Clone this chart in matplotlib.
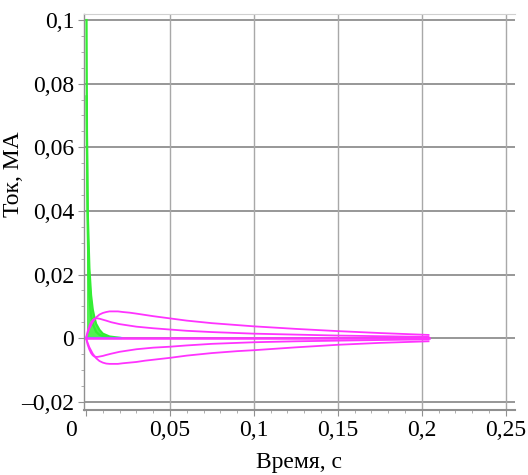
import matplotlib
matplotlib.use("Agg")
import matplotlib.pyplot as plt
import matplotlib.transforms as mtransforms
from matplotlib.ticker import MultipleLocator, FixedLocator

# ---------------- data ----------------
x_ticks = [0, 0.05, 0.1, 0.15, 0.2, 0.25]
x_tick_labels = ["0", "0,05", "0,1", "0,15", "0,2", "0,25"]
y_ticks = [-0.02, 0, 0.02, 0.04, 0.06, 0.08, 0.1]
y_tick_labels = ["\u20130,02", "0", "0,02", "0,04", "0,06", "0,08", "0,1"]

# green fast-decaying curves
g1_t = [0.0003, 0.0006, 0.001, 0.0015, 0.002, 0.003, 0.004, 0.006, 0.008, 0.012]
g1_v = [0.1, 0.06, 0.035, 0.02, 0.013, 0.007, 0.0045, 0.002, 0.001, 0.0003]
g2_t = [0.0003, 0.001, 0.002, 0.003, 0.004, 0.005, 0.006, 0.008, 0.010, 0.014, 0.02]
g2_v = [0.076, 0.04, 0.022, 0.0135, 0.009, 0.0065, 0.0045, 0.0026, 0.0014, 0.0005, 0.0001]

# cyan line along zero
cy_t = [0.0, 0.021]
cy_v = [0.0, 0.0]

# magenta curves
mz_t = [0.0, 0.204]
mz_v = [0.0, 0.0]

up_out_t = [0.0, 0.001, 0.002, 0.004, 0.006, 0.008, 0.010, 0.012, 0.014, 0.016, 0.019, 0.022, 0.026, 0.03, 0.035,
            0.04, 0.05, 0.06, 0.075, 0.09, 0.1, 0.125, 0.15, 0.175, 0.204]
up_out_v = [0.0, 0.0016, 0.0030, 0.0051, 0.0065, 0.0074, 0.0079, 0.0082, 0.0084, 0.0084, 0.0084, 0.0082, 0.0080, 0.0077, 0.0073,
            0.0069, 0.0062, 0.0055, 0.0047, 0.0041, 0.0037, 0.0029, 0.0022, 0.0016, 0.0010]

up_in_t = [0.0, 0.001, 0.002, 0.003, 0.004, 0.005, 0.006, 0.007, 0.008, 0.010, 0.012, 0.015, 0.02, 0.025, 0.03,
           0.04, 0.05, 0.06, 0.075, 0.09, 0.1, 0.125, 0.15, 0.175, 0.204]
up_in_v = [0.0, 0.0022, 0.0038, 0.0050, 0.0057, 0.0061, 0.0062, 0.0062, 0.0061, 0.0058, 0.0055, 0.0050, 0.0044, 0.0040, 0.0036,
           0.0031, 0.0027, 0.0023, 0.0019, 0.0016, 0.0014, 0.0011, 0.0008, 0.0006, 0.0004]

lo_in_t = [0.0, 0.001, 0.002, 0.003, 0.004, 0.005, 0.006, 0.007, 0.008, 0.010, 0.012, 0.015, 0.02, 0.025, 0.03,
           0.04, 0.05, 0.06, 0.075, 0.09, 0.1, 0.125, 0.15, 0.175, 0.204]
lo_in_v = [0.0, -0.0021, -0.0036, -0.0047, -0.0054, -0.0058, -0.0059, -0.0059, -0.0058, -0.0056, -0.0053, -0.0049, -0.0043, -0.0039, -0.0035,
           -0.0030, -0.0027, -0.0023, -0.0018, -0.0015, -0.0013, -0.0010, -0.0008, -0.0006, -0.0004]

lo_out_t = [0.0, 0.001, 0.002, 0.004, 0.006, 0.008, 0.010, 0.012, 0.014, 0.016, 0.019, 0.022, 0.026, 0.03, 0.035,
            0.04, 0.05, 0.06, 0.075, 0.09, 0.1, 0.125, 0.15, 0.175, 0.204]
lo_out_v = [0.0, -0.0015, -0.0029, -0.0049, -0.0063, -0.0072, -0.0077, -0.0080, -0.0081, -0.0081, -0.0081, -0.0079, -0.0077, -0.0075, -0.0071,
            -0.0068, -0.0062, -0.0055, -0.0047, -0.0041, -0.0038, -0.0029, -0.0021, -0.0015, -0.0010]

# ---------------- plotting ----------------
plt.rcParams['font.family'] = ['Liberation Serif', 'DejaVu Serif']

fig = plt.figure(figsize=(5.28, 4.75), dpi=100)
ax = fig.add_axes([84 / 528, 1 - 410 / 475, (515 - 84) / 528, (410 - 14) / 475])

ax.set_xlim(-0.0012, 0.2555)
ax.set_ylim(-0.0226, 0.1019)

# grid
for yv in y_ticks:
    ax.axhline(yv, color="#7a7a7a", lw=1.1, zorder=1)
for xv in x_ticks[1:]:
    ax.axvline(xv, color="#a8a8a8", lw=1.0, zorder=1)

magenta = "#ff33ff"
green = "#33ee33"

ax.fill_between(g2_t, g2_v, 0, color=green, alpha=0.85, lw=0, zorder=2)
ax.plot(g1_t, g1_v, color=green, lw=1.6, zorder=3)
ax.plot(g2_t, g2_v, color=green, lw=1.6, zorder=3)
ax.plot(cy_t, cy_v, color="#22bbff", lw=1.6, zorder=3)

for t, v in [(up_out_t, up_out_v), (up_in_t, up_in_v), (lo_in_t, lo_in_v), (lo_out_t, lo_out_v)]:
    ax.plot(t, v, color=magenta, lw=1.3, zorder=4)
ax.plot(mz_t, mz_v, color=magenta, lw=1.8, zorder=4)

# spines
ax.spines["right"].set_visible(False)
ax.spines["top"].set_color("#d0d0d0")
ax.spines["left"].set_color("#909090")
ax.spines["bottom"].set_color("#909090")
ax.spines["left"].set_linewidth(1.0)
ax.spines["bottom"].set_linewidth(1.5)

ax.xaxis.set_major_locator(FixedLocator(x_ticks))
ax.set_xticklabels(x_tick_labels)
ax.yaxis.set_major_locator(FixedLocator(y_ticks))
ax.set_yticklabels(y_tick_labels)
ax.xaxis.set_minor_locator(MultipleLocator(0.01))
ax.yaxis.set_minor_locator(MultipleLocator(0.005))

ax.tick_params(axis="both", which="major", direction="out", length=4, color="#909090",
               labelsize=17, pad=3)
ax.tick_params(axis="both", which="minor", direction="out", length=2.5, color="#a0a0a0")
ax.tick_params(axis="x", which="major", pad=3)

# shift the "0" x tick label left as in the reference
lbl0 = ax.get_xticklabels()[0]
lbl0.set_transform(lbl0.get_transform() + mtransforms.ScaledTranslation(-15 / 100, 0, fig.dpi_scale_trans))

ax.set_xlabel("Время, с", fontsize=17)
ax.xaxis.set_label_coords(0.5, -0.105)
ax.set_ylabel("Ток, МА", fontsize=17)
ax.yaxis.set_label_coords(-0.14, 0.595)

fig.savefig("out.png", dpi=100)
